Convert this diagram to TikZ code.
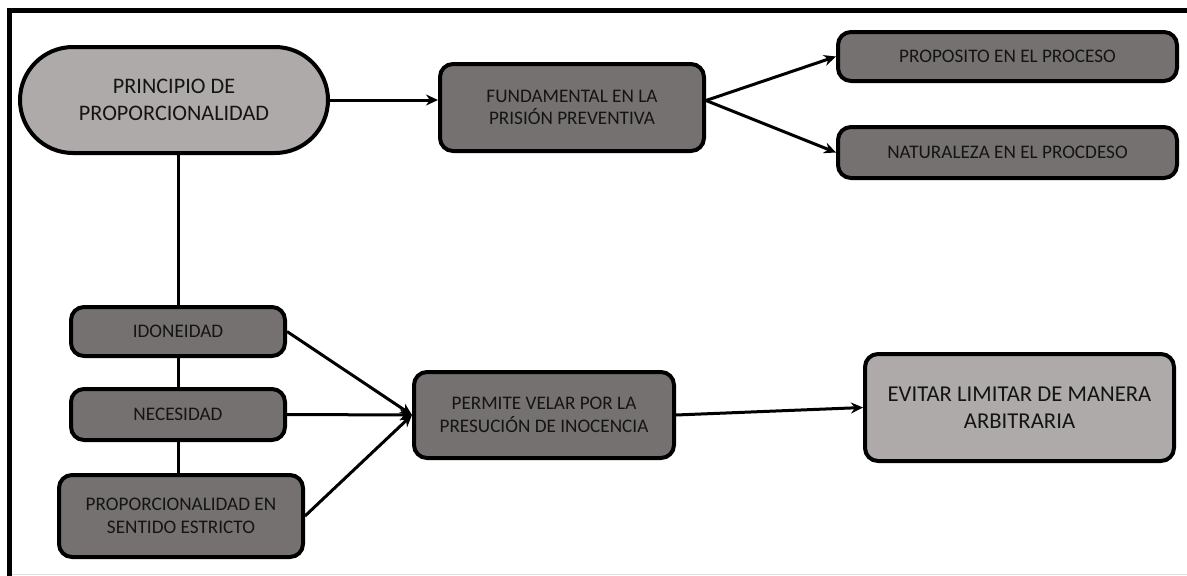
\documentclass[tikz,border=0pt]{standalone}
\usepackage{fontspec}
\setmainfont{Carlito}
\usetikzlibrary{arrows.meta}
\definecolor{lightfill}{HTML}{AEAAAA}
\definecolor{darkfill}{HTML}{767171}
\definecolor{inkgray}{HTML}{141414}

\begin{document}
\begin{tikzpicture}[
		x=1pt, y=-1pt,
		>={Stealth[length=12pt, width=11pt]},
		box/.style = {draw, line width=4pt, rounded corners=13pt, align=center, text=inkgray, inner sep=0pt},
		dark/.style = {box, fill=darkfill, font=\fontsize{19.2}{22.5}\selectfont},
		light/.style = {box, fill=lightfill, font=\fontsize{22.7}{27}\selectfont},
		link/.style = {line width=3pt}
	]
	\useasboundingbox (0,0) rectangle (1187,576);
	% frame
	\draw[line width=5pt] (9,576) -- (9,10) -- (1187,10);
	\draw[black!12, line width=1.5pt] (12,574.5) -- (1187,574.5);
	% nodes
	\node[light, rounded corners=53pt, minimum width=308pt, minimum height=106pt, font=\fontsize{22.2}{27}\selectfont] (princ) at (174,100) {PRINCIPIO DE\\PROPORCIONALIDAD};
	\node[dark, minimum width=264pt, minimum height=87pt] (fund) at (572,107.5) {FUNDAMENTAL EN LA\\PRISIÓN PREVENTIVA};
	\node[dark, minimum width=339pt, minimum height=49pt] (propo) at (1007.5,56.5) {PROPOSITO EN EL PROCESO};
	\node[dark, minimum width=339pt, minimum height=51pt] (natu) at (1007.5,152.5) {NATURALEZA EN EL PROCDESO};
	\node[dark, minimum width=214pt, minimum height=49pt] (idon) at (178,331.5) {IDONEIDAD};
	\node[dark, minimum width=214pt, minimum height=51pt] (nece) at (178,414.5) {NECESIDAD};
	\node[dark, minimum width=244pt, minimum height=82pt] (estr) at (181,516) {PROPORCIONALIDAD EN\\SENTIDO ESTRICTO};
	\node[dark, minimum width=260pt, minimum height=86pt] (perm) at (544,415) {PERMITE VELAR POR LA\\PRESUCIÓN DE INOCENCIA};
	\node[light, minimum width=309pt, minimum height=107pt] (evit) at (1019.5,407.5) {EVITAR LIMITAR DE MANERA\\ARBITRARIA};
	% connectors
	\draw[link, ->] (princ.east) -- (princ.east -| fund.west);
	\draw[link, ->] ([yshift=7pt]fund.east) -- (propo.west);
	\draw[link, ->] ([yshift=7pt]fund.east) -- (natu.west);
	\draw[link] (idon.north |- princ.south) -- (idon.north);
	\draw[link] (idon.south) -- (nece.north);
	\draw[link] (nece.south) -- (nece.south |- estr.north);
	\draw[link, ->] (idon.east) -- (perm.west);
	\draw[link, ->] (nece.east) -- (perm.west);
	\draw[link, ->] (estr.east) -- (perm.west);
	\draw[link, ->] (perm.east) -- (evit.west);
\end{tikzpicture}
\end{document}
